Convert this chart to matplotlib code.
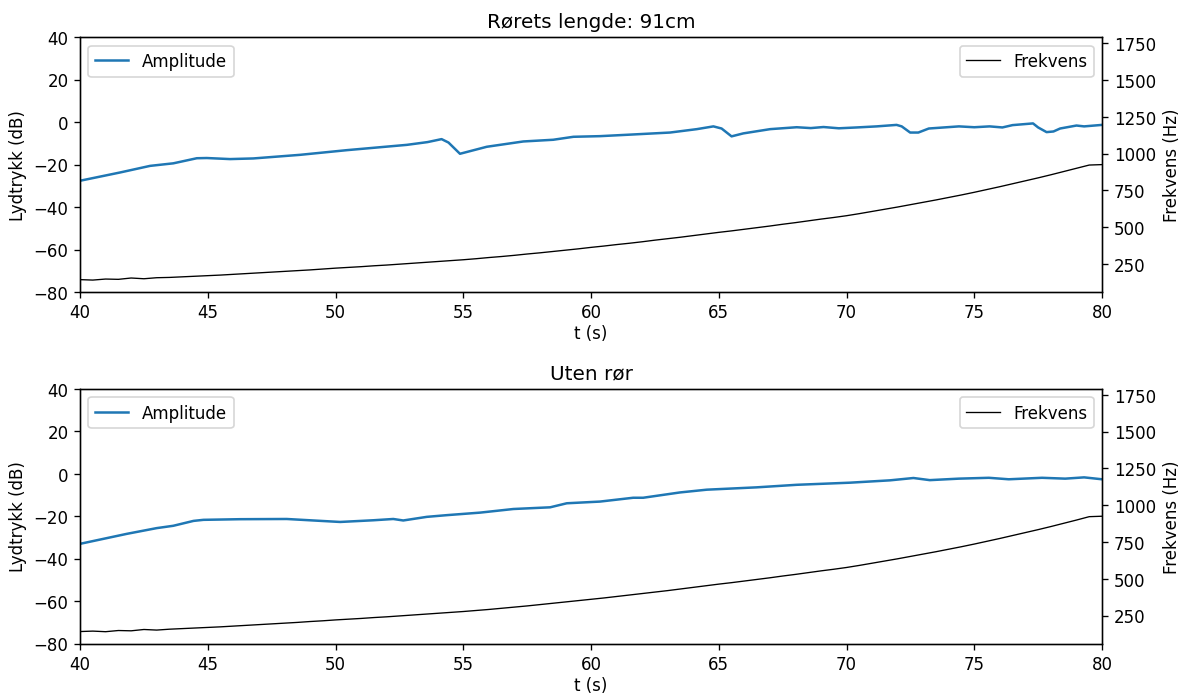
import numpy as np
import matplotlib
matplotlib.use("Agg")
import matplotlib.pyplot as plt

# amplitude, med rør (91 cm)
t_amp_ror = [40.0, 41.57, 42.74, 43.65, 44.57, 44.96, 45.87, 46.78, 48.61, 50.44,
             52.79, 53.6, 54.15, 54.42, 54.87, 55.92, 57.35, 58.52, 59.31, 60.35,
             61.5, 63.09, 64.14, 64.79, 65.11, 65.5, 65.96, 67.01, 68.05, 68.6,
             69.1, 69.7, 70.4, 71.18, 71.96, 72.16, 72.49, 72.81, 73.22, 74.4,
             75.0, 75.6, 76.1, 76.5, 77.3, 77.5, 77.83, 78.1, 78.36, 79.0,
             79.3, 80.0]
amp_ror = [-27.6, -23.7, -20.6, -19.4, -17.0, -16.9, -17.4, -17.1, -15.4, -13.2,
           -10.7, -9.4, -8.0, -9.6, -14.9, -11.6, -9.1, -8.3, -6.9, -6.6,
           -5.9, -4.9, -3.3, -2.0, -3.0, -6.7, -5.3, -3.3, -2.4, -2.8,
           -2.3, -2.9, -2.5, -2.0, -1.3, -2.0, -4.9, -4.9, -3.0, -2.0,
           -2.4, -2.0, -2.5, -1.4, -0.6, -2.5, -4.7, -4.4, -3.0, -1.6,
           -2.0, -1.3]

# amplitude, uten rør
t_amp_uten = [40.0, 41.83, 43.0, 43.65, 44.44, 44.83, 46.26, 48.09, 49.13, 50.18,
              51.48, 52.26, 52.65, 53.57, 54.35, 55.66, 56.96, 58.4, 59.05, 60.35,
              61.65, 62.04, 63.48, 64.53, 66.48, 68.05, 70.14, 71.7, 72.62, 73.26,
              74.4, 75.57, 76.35, 77.65, 78.56, 79.3, 80.0]
amp_uten = [-33.0, -28.3, -25.6, -24.5, -22.2, -21.7, -21.4, -21.3, -22.0, -22.7,
            -21.9, -21.3, -22.0, -20.3, -19.5, -18.3, -16.6, -15.8, -13.9, -13.1,
            -11.3, -11.3, -8.8, -7.5, -6.4, -5.2, -4.2, -3.1, -2.0, -3.0,
            -2.3, -1.9, -2.6, -1.9, -2.3, -1.7, -2.6]

# frekvens (Hz), hvert halve sekund
t_frek = np.arange(40, 80.5, 0.5)
frek_ror = [144, 141, 148, 146, 155, 150, 157, 159, 163, 167, 171,
            175, 180, 185, 190, 195, 200, 205, 210, 216, 222,
            227, 232, 238, 243, 249, 255, 261, 267, 273, 279,
            286, 294, 301, 309, 318, 326, 335, 344, 353, 363,
            372, 382, 391, 401, 412, 422, 432, 443, 454, 465,
            475, 486, 497, 508, 520, 531, 543, 555, 566, 578,
            592, 607, 622, 637, 653, 669, 685, 702, 719, 737,
            756, 775, 795, 815, 835, 856, 878, 900, 922, 925]
frek_uten = [142, 145, 141, 149, 147, 156, 152, 158, 162, 166, 170,
             174, 179, 184, 189, 194, 199, 204, 210, 215, 221,
             226, 231, 237, 242, 248, 254, 260, 266, 272, 278,
             285, 292, 300, 308, 316, 325, 334, 343, 352, 361,
             370, 380, 390, 400, 410, 420, 431, 442, 453, 464,
             474, 485, 496, 507, 519, 530, 542, 554, 565, 577,
             591, 606, 621, 636, 652, 668, 684, 701, 718, 736,
             755, 774, 794, 814, 834, 855, 877, 899, 922, 925]

fig = plt.figure(figsize=(9.825, 5.79), dpi=120)
fig.subplots_adjust(left=0.0679, right=0.9347, top=0.9453, bottom=0.0725, hspace=0.38)

panels = [("Rørets lengde: 91cm", t_amp_ror, amp_ror, frek_ror),
          ("Uten rør", t_amp_uten, amp_uten, frek_uten)]

for i, (title, ta, amp, frek) in enumerate(panels):
    ax = fig.add_subplot(2, 1, i + 1)
    ax.plot(ta, amp, color="C0", lw=1.5, label="Amplitude")
    ax.set_xlim(40, 80)
    ax.set_ylim(-80, 40)
    ax.set_xlabel("t (s)", labelpad=1.5)
    ax.set_ylabel("Lydtrykk (dB)")
    ax.set_title(title)
    ax.legend(loc="upper left")

    ax2 = ax.twinx()
    ax2.plot(t_frek, frek, color="black", lw=0.8, label="Frekvens")
    ax2.set_ylim(60, 1790)
    ax2.set_ylabel("Frekvens (Hz)")
    ax2.legend(loc="upper right")

fig.savefig("out.png", dpi=120)
